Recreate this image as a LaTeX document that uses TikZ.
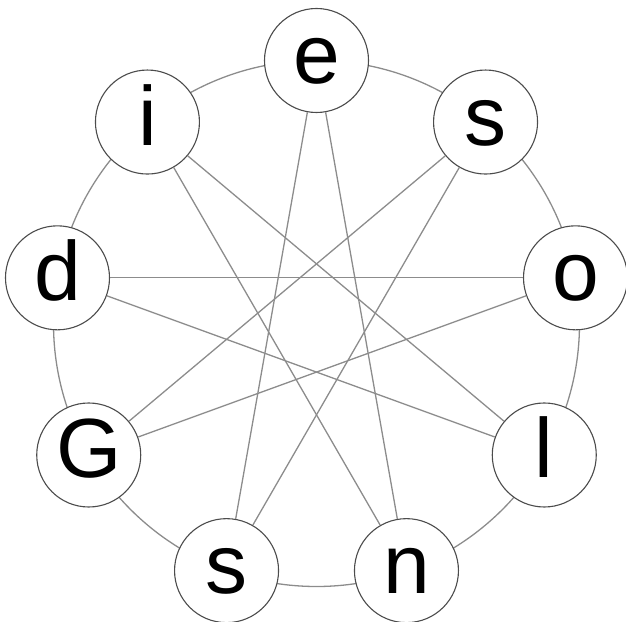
\documentclass[tikz,border=0pt]{standalone}
\usepackage{fontspec}
\setmainfont{Liberation Sans}
\usetikzlibrary{calc}
\begin{document}
\begin{tikzpicture}[x=1pt,y=1pt,
  letter/.style={circle,draw=black!70,line width=1.1pt,fill=white,minimum size=104pt,inner sep=0pt,text height=46pt,text depth=0pt,font=\fontsize{84}{84}\selectfont},
  link/.style={draw=black!45,line width=1.3pt}]
\useasboundingbox (0,0) rectangle (626,621);
\coordinate (c) at (316.5,297.5);
\draw[link] (c) circle (263);
\foreach \n/\t/\a in {e/e/90, s1/s/50, o/o/10, l/l/-30, n/n/-70, s2/s/-110, G/G/-150, d/d/170, i/i/130}{
  \node[letter] (\n) at ($(c)+(\a:263)$) {\t};
}
\foreach \p/\q in {e/n, e/s2, s1/s2, s1/G, o/G, o/d, l/d, l/i, n/i}{
  \draw[link] (\p) -- (\q);
}
\end{tikzpicture}
\end{document}
